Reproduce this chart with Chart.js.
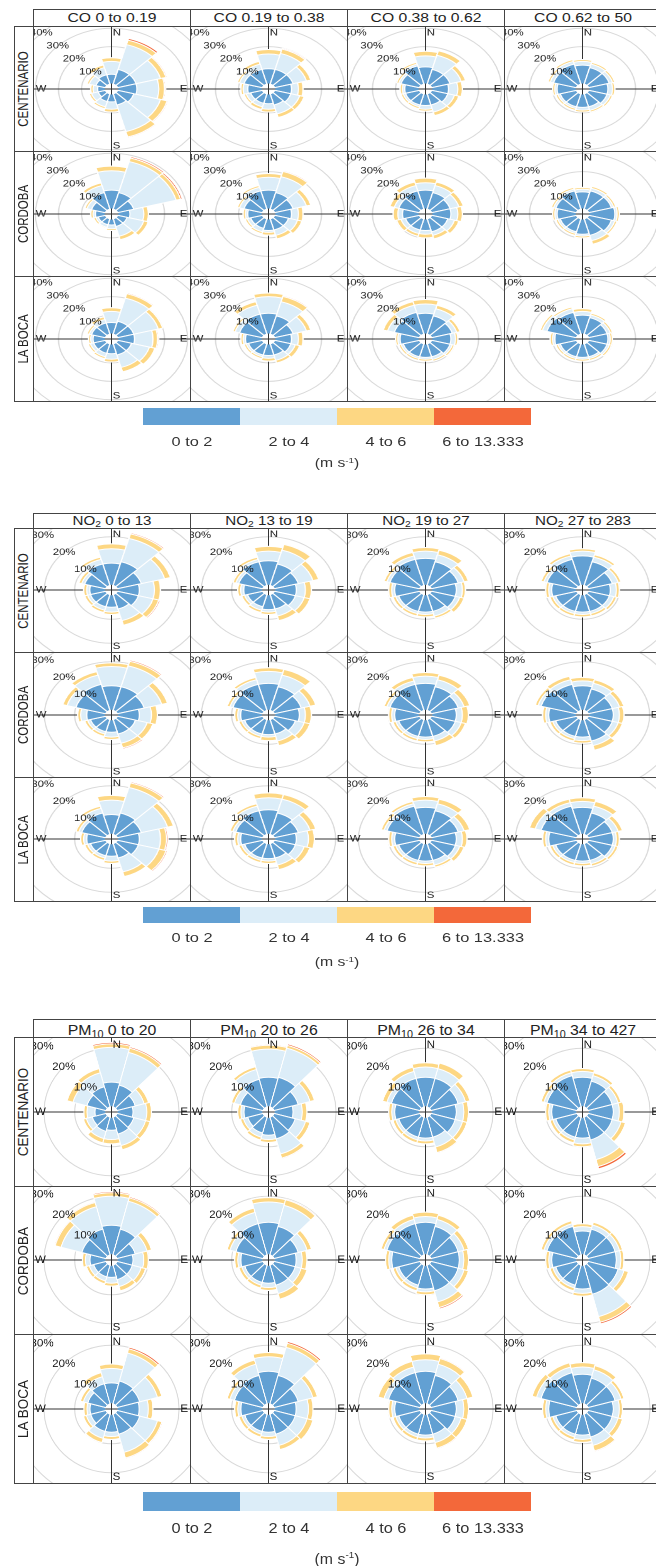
<!DOCTYPE html>
<html>
<head>
<meta charset="utf-8">
<script src="https://cdn.jsdelivr.net/npm/chart.js@4.4.1/dist/chart.umd.min.js"></script>
<style>
  html, body { margin: 0; padding: 0; background: #fff; }
  body { width: 656px; height: 1566px; position: relative; overflow: hidden;
         font-family: "Liberation Sans", Arial, sans-serif; color: #222; }
  .abs { position: absolute; box-sizing: border-box; }
  .frame { border: 1px solid #444; }
  .clip { overflow: hidden; }
  .txt { position: absolute; left: 50%; top: 50%; white-space: nowrap; line-height: 1; }
  sub { font-size: 68%; vertical-align: -0.3em; line-height: 0; }
  sup { font-size: 62%; vertical-align: 0.55em; line-height: 0; }
</style>
</head>
<body>
<script>
// wind direction sectors (30 degrees each) and speed bins
const DIRECTIONS = ['N', '30', '60', 'E', '120', '150', 'S', '210', '240', 'W', '300', '330'];
const SPEED_BINS = ['0 to 2', '2 to 4', '4 to 6', '6 to 13.333'];
const SPEED_COLOURS = ['#62a0d3', '#dcedf8', '#fdd783', '#f3683a'];
const SITES = ['CENTENARIO', 'CORDOBA', 'LA BOCA'];

const CO_RANGES = ['0 to 0.19', '0.19 to 0.38', '0.38 to 0.62', '0.62 to 50'];
const NO2_RANGES = ['0 to 13', '13 to 19', '19 to 27', '27 to 283'];
const PM10_RANGES = ['0 to 20', '20 to 26', '26 to 34', '34 to 427'];

const CO_TICKS = [10, 20, 30, 40];
const NO2_TICKS = [10, 20, 30];
const PM10_TICKS = [10, 20, 30];

// each rose: frequency (%) per direction for [0-2, 2-4, 4-6, 6-13.333] m/s
const CO_CENTENARIO_1 = [
  [5, 8, 8, 8, 7, 6, 4, 4, 3, 3, 4, 5],
  [7, 14, 11, 9.5, 12, 15, 4, 3, 3, 2, 3, 4],
  [2, 2.5, 2.5, 2.5, 3, 3, 1.5, 1, 1, 1, 1, 1.5],
  [0, 1, 0.5, 0.5, 0.5, 0.5, 0, 0, 0, 0, 0, 0]];
const CO_CENTENARIO_2 = [
  [8, 8, 8, 7, 7, 6, 5, 5, 5, 6, 8, 8],
  [8, 9, 6, 3, 4, 5, 3, 2, 2, 2, 2, 3],
  [2.5, 2.5, 2, 2, 2, 2, 1.5, 1.5, 1, 1, 1, 1.5],
  [0, 0.5, 0, 0, 0, 0, 0, 0, 0, 0, 0, 0]];
const CO_CENTENARIO_3 = [
  [9, 8, 8, 7, 7, 6, 6, 6, 6, 6, 8, 10],
  [6, 8, 5, 4, 3, 4, 2, 1, 1, 1, 1, 1],
  [2.5, 2.5, 2, 2, 2, 2, 1, 1, 1, 1, 1, 1],
  [0, 0.3, 0, 0, 0, 0, 0, 0, 0, 0, 0, 0]];
const CO_CENTENARIO_4 = [
  [10, 9, 9, 8, 8, 7, 7, 7, 7, 8, 10, 11],
  [2, 2, 1.5, 2, 1.5, 2, 1.5, 1, 1, 1, 1.5, 1.5],
  [1, 1, 1, 1, 1, 1, 1, 1, 1, 1, 1, 1],
  [0, 0, 0, 0, 0, 0, 0, 0, 0, 0, 0, 0]];
const CO_CORDOBA_1 = [
  [10, 9, 7, 5, 4, 4, 3, 3, 3, 4, 6, 9],
  [10.5, 17.5, 19, 6, 7.5, 5.5, 2, 1.5, 1, 1, 2, 4],
  [2.5, 2, 2, 2, 2, 2, 1, 0.5, 1, 1, 1, 1.5],
  [0, 0.8, 0.8, 0, 0, 0, 0, 0, 0, 0, 0, 0]];
const CO_CORDOBA_2 = [
  [10, 9, 8, 7, 6, 6, 6, 5, 5, 6, 8, 10],
  [7, 9, 6, 3, 4, 3, 1, 2, 1.5, 1, 2, 2],
  [2, 3, 2, 2, 2, 2, 1.5, 1, 1, 1, 1, 1],
  [0, 0.5, 0, 0, 0, 0, 0, 0, 0, 0, 0, 0]];
const CO_CORDOBA_3 = [
  [10, 9, 8, 8, 7, 7, 6, 6, 6, 7, 9, 10],
  [4, 4, 4, 3, 3, 2, 2, 2, 2, 2, 2, 3],
  [2.5, 2, 2, 2, 2, 2, 2, 1.5, 2, 2, 2, 2],
  [0, 0, 0, 0, 0, 0, 0, 0, 0, 0, 0, 0]];
const CO_CORDOBA_4 = [
  [9, 10, 10, 11, 10, 9, 8, 7, 7, 8, 9, 10],
  [1.5, 1.5, 1, 1, 1.5, 3, 1, 1, 1, 1, 1, 1],
  [1, 1, 1, 1, 1, 2, 1, 1, 1, 1, 1, 1],
  [0, 0, 0, 0, 0, 0, 0, 0, 0, 0, 0, 0]];
const CO_LABOCA_1 = [
  [6, 7, 7, 7, 6, 6, 5, 5, 5, 5, 6, 6],
  [6, 13, 11, 8, 8, 7, 3, 2, 1.5, 1, 1, 2],
  [2, 2.5, 2, 2, 2.5, 2.5, 1.5, 1, 1, 1, 1, 1.5],
  [0, 0.5, 0, 0.5, 0, 0, 0, 0, 0, 0, 0, 0]];
const CO_LABOCA_2 = [
  [11, 10, 8, 7, 7, 6, 6, 6, 6, 7, 10, 11],
  [9, 8, 6, 3, 2, 3, 1.5, 1, 1, 1, 2, 5],
  [2, 3, 2, 2, 2, 1.5, 1.5, 1, 1, 1, 1, 2],
  [0, 0.5, 0, 0, 0, 0, 0, 0, 0, 0, 0, 0]];
const CO_LABOCA_3 = [
  [11, 10, 9, 8, 8, 7, 7, 7, 7, 8, 11, 12],
  [5, 4, 2, 2, 1, 1.5, 1, 1, 1, 1, 3, 4],
  [2.5, 2, 1.5, 1, 1, 1, 1, 1, 1, 1, 2, 2],
  [0, 0, 0, 0, 0, 0, 0, 0, 0, 0, 0, 0]];
const CO_LABOCA_4 = [
  [10, 9, 8, 8, 8, 7, 7, 7, 7, 9, 13, 12],
  [2, 1.5, 1.5, 1, 1, 1, 1, 1, 1, 1, 2, 2],
  [1.5, 1, 1, 1, 1, 1, 1, 1, 1, 1, 1, 1],
  [0, 0, 0, 0, 0, 0, 0, 0, 0, 0, 0, 0]];

const NO2_CENTENARIO_1 = [
  [9, 10, 8, 7, 7, 6, 5, 5, 5, 5, 7, 9],
  [6, 10, 8, 5, 5, 5, 2, 1.5, 1, 1, 1, 2],
  [2, 2, 2, 2, 2, 2, 1, 1, 1, 1, 1, 1],
  [0, 0.5, 0, 0, 0.5, 0, 0, 0, 0, 0, 0, 0]];
const NO2_CENTENARIO_2 = [
  [10, 9, 8, 7, 7, 6, 6, 5, 5, 6, 8, 10],
  [4, 6, 5, 3, 3, 3, 1, 1.5, 1, 1, 1, 1],
  [2, 2.5, 2, 2, 2, 2, 1, 1, 1, 1, 1, 1],
  [0, 0.3, 0, 0, 0, 0, 0, 0, 0, 0, 0, 0]];
const NO2_CENTENARIO_3 = [
  [11, 10, 9, 8, 8, 7, 7, 7, 7, 8, 10, 11],
  [3, 3, 2, 2, 1.5, 2, 1, 1, 1, 1, 1, 1.5],
  [1.5, 2, 1.5, 1, 1.5, 1, 1, 1, 1, 1, 1, 1.5],
  [0, 0, 0, 0, 0, 0, 0, 0, 0, 0, 0, 0]];
const NO2_CENTENARIO_4 = [
  [12, 10, 8, 7, 7, 7, 7, 7, 7, 8, 10, 11],
  [2, 2, 2, 2, 1.5, 1, 1, 1, 1, 1, 1, 1.5],
  [1, 1, 1, 1, 1, 1, 1, 1, 1, 1, 1, 1],
  [0, 0, 0, 0, 0, 0, 0, 0, 0, 0, 0, 0]];
const NO2_CORDOBA_1 = [
  [10, 10, 9, 7, 6, 6, 5, 5, 5, 6, 10, 11],
  [8, 9, 6, 4, 4, 4, 2, 1, 1, 2, 3, 4],
  [1.5, 2, 2, 2, 2, 2, 1, 1, 1, 1, 1.5, 1.5],
  [0, 0.5, 0, 0, 0, 0.5, 0, 0, 0, 0, 0, 0]];
const NO2_CORDOBA_2 = [
  [11, 10, 9, 8, 7, 6, 6, 6, 6, 7, 10, 11],
  [5, 5, 3, 2, 3, 3, 1, 1, 1, 1, 1, 2],
  [1.5, 2.5, 2, 2, 2, 2, 1.5, 1, 1, 1, 1, 1],
  [0, 0, 0, 0, 0, 0, 0, 0, 0, 0, 0, 0]];
const NO2_CORDOBA_3 = [
  [11, 10, 9, 8, 8, 7, 7, 7, 7, 8, 10, 11],
  [3, 3, 2, 2, 2, 2, 1, 1, 1, 1, 1, 1.5],
  [1.5, 2, 2, 2, 1.5, 2, 1, 1, 1, 1, 1, 1.5],
  [0, 0, 0, 0, 0, 0, 0, 0, 0, 0, 0, 0]];
const NO2_CORDOBA_4 = [
  [10, 9, 8, 8, 8, 9, 7, 7, 7, 9, 12, 11],
  [2, 2.5, 2.5, 2, 2, 2, 1.5, 1, 1, 1, 1, 2],
  [1.5, 1.5, 1.5, 1.5, 1.5, 2, 1, 1, 1, 1, 1, 1.5],
  [0, 0, 0, 0, 0, 0, 0, 0, 0, 0, 0, 0]];
const NO2_LABOCA_1 = [
  [8, 9, 8, 7, 7, 6, 5, 5, 5, 6, 8, 9],
  [6, 11, 9, 7, 7, 6, 2, 1, 1, 1, 1, 2],
  [2, 2, 2, 2, 2.5, 2, 1, 1, 1, 1, 1, 1],
  [0, 0.5, 0, 0.5, 0.5, 0, 0, 0, 0, 0, 0, 0]];
const NO2_LABOCA_2 = [
  [10, 9, 8, 7, 7, 6, 6, 6, 6, 7, 9, 10],
  [5, 6, 4, 4, 3, 3, 1, 1, 1, 1, 1, 2],
  [2, 2, 2, 2, 2, 2, 1, 1, 1, 1, 1, 1],
  [0, 0, 0, 0, 0, 0, 0, 0, 0, 0, 0, 0]];
const NO2_LABOCA_3 = [
  [11, 10, 9, 8, 8, 7, 7, 7, 7, 8, 11, 12],
  [3, 3, 2, 2, 1.5, 2, 1, 1, 1, 1, 1, 1],
  [1.5, 2, 2, 1.5, 1.5, 1, 1, 1, 1, 1, 1, 1],
  [0, 0, 0, 0, 0, 0, 0, 0, 0, 0, 0, 0]];
const NO2_LABOCA_4 = [
  [11, 9, 8, 8, 8, 7, 7, 7, 7, 9, 12, 12],
  [2.5, 3, 2, 1, 1, 1.5, 1, 1, 1, 1, 2, 1.5],
  [1.5, 2, 1.5, 1, 1, 1, 1, 1, 1, 1, 2, 1.5],
  [0, 0, 0, 0, 0, 0, 0, 0, 0, 0, 0, 0]];

const PM10_CENTENARIO_1 = [
  [8.3, 7.6, 6, 5, 5.5, 5.9, 4.3, 4.9, 4.5, 3.4, 6.3, 7],
  [12, 11.7, 3, 4.5, 4, 4.1, 3.2, 2.6, 2, 2.6, 4.7, 5],
  [1.2, 1.5, 1.5, 1.5, 1.5, 1.5, 1.5, 1.5, 1, 1, 2, 1.5],
  [0.5, 0.5, 0, 0, 0, 0, 0, 0, 0, 0, 0, 0]];
const PM10_CENTENARIO_2 = [
  [10, 10.4, 8, 6, 7, 7.6, 6, 5.5, 5, 6, 7.5, 9.7],
  [9.7, 10.4, 4, 3, 3.5, 5.4, 1.5, 1.5, 1.5, 1, 2, 3.5],
  [1.3, 1, 1.5, 1.5, 1.5, 1.5, 1, 1, 1, 1, 1, 1],
  [0.3, 0.5, 0, 0, 0, 0.3, 0, 0, 0, 0, 0, 0]];
const PM10_CENTENARIO_3 = [
  [10, 10, 9, 8, 8, 7, 7, 7, 7, 8, 9.5, 10],
  [3.5, 3.5, 2.5, 2.5, 2.5, 3.5, 1, 1, 1, 1, 1.5, 2.5],
  [1.5, 2, 1.5, 1.5, 1.5, 2, 1, 1, 1, 1, 1.5, 1.5],
  [0, 0.2, 0, 0, 0, 0.3, 0, 0, 0, 0, 0, 0]];
const PM10_CENTENARIO_4 = [
  [10, 9, 8, 8, 8, 8, 7, 7, 7, 8, 10, 11],
  [2, 2, 2, 2, 3, 7, 2, 1, 1, 1, 1, 1],
  [1, 1, 1, 1.5, 1.5, 2.5, 1, 1, 1, 1, 1, 1],
  [0, 0, 0, 0, 0, 0.8, 0, 0, 0, 0, 0, 0]];
const PM10_CORDOBA_1 = [
  [10, 9, 6, 5, 5, 5, 4, 4, 4, 5, 8, 9],
  [10, 10, 4, 3.5, 3, 2.5, 2, 1.5, 1.5, 1.5, 7, 8],
  [1.2, 1.2, 1.5, 1.5, 1.5, 1.5, 1, 1, 1, 1, 2, 1.5],
  [0.4, 0.4, 0, 0, 0, 0, 0, 0, 0, 0, 0.3, 0.3]];
const PM10_CORDOBA_2 = [
  [11, 10, 8, 7, 7, 7, 6, 6, 6, 7, 9, 11],
  [7, 7.5, 3, 2, 2, 3, 1.5, 1, 1, 1, 2, 4],
  [1.5, 2, 1.5, 1.5, 2, 2, 1, 1, 1, 1, 1, 1.5],
  [0.2, 0.3, 0, 0, 0, 0, 0, 0, 0, 0, 0, 0]];
const PM10_CORDOBA_3 = [
  [11, 10, 9, 9, 9, 9, 8, 7, 7, 9, 11, 11],
  [2, 2.5, 2, 1.5, 2, 4, 1, 1, 1, 1, 1, 1.5],
  [1.5, 1.5, 1.5, 1.5, 1.5, 2, 1, 1, 1, 1, 1, 1.5],
  [0, 0, 0, 0, 0, 0.5, 0, 0, 0, 0, 0, 0]];
const PM10_CORDOBA_4 = [
  [8, 9, 9, 9, 10, 10.2, 8, 7, 7, 8, 10, 10],
  [1.5, 1.5, 1.5, 1.5, 2, 8, 1.5, 1, 1, 1, 1, 1],
  [1, 1, 1, 1, 1.5, 2, 1, 1, 1, 1, 1, 1],
  [0, 0, 0, 0, 0, 0.6, 0, 0, 0, 0, 0, 0]];
const PM10_LABOCA_1 = [
  [7, 8, 7.5, 7, 7.5, 7, 6, 6, 5, 5, 6, 7],
  [5, 10, 6, 3, 6, 6.5, 1.5, 2.5, 1.5, 1, 1.5, 2.5],
  [1.5, 1.5, 1.5, 1.5, 1.5, 2, 1, 1.5, 1, 1, 1, 1.5],
  [0, 0.6, 0, 0, 0.3, 0.3, 0, 0, 0, 0, 0, 0]];
const PM10_LABOCA_2 = [
  [11, 10, 8, 7, 7, 7, 6, 6, 6, 7, 9.5, 10],
  [5, 10, 5, 4, 4, 4, 1.5, 1, 1, 1, 1.5, 4],
  [1.5, 1.5, 1.5, 1.5, 2, 1.5, 1, 1, 1, 1, 1, 1.5],
  [0, 0.6, 0, 0, 0, 0, 0, 0, 0, 0, 0, 0]];
const PM10_LABOCA_3 = [
  [11, 10, 9, 8, 8, 7, 7, 7, 7, 8, 10.5, 11],
  [4, 4, 3, 2.5, 2, 3, 1, 1, 1, 1, 1.5, 2],
  [2, 2, 2, 1.5, 2, 2, 1, 1, 1, 1, 2, 2],
  [0, 0.3, 0, 0, 0, 0.3, 0, 0, 0, 0, 0, 0]];
const PM10_LABOCA_4 = [
  [10, 9, 9, 8, 8, 8, 7, 7, 7, 9, 12, 11],
  [2.5, 3, 2, 2, 2, 3, 1.5, 1, 1, 1, 1.5, 2],
  [1.5, 1.5, 1, 1, 1.5, 2, 1, 1, 1, 1, 1.5, 1.5],
  [0, 0, 0, 0, 0, 0.3, 0, 0, 0, 0, 0, 0]];

// page layout
const STRIP_X = 14;
const GRID_X = 33;
const COL_W = 157;
const LEGEND_X = 143;
const LEGEND_SEG = 97;

const PANELS = [
  { name: 'CO', ranges: CO_RANGES, ticks: CO_TICKS,
    roses: [[CO_CENTENARIO_1, CO_CENTENARIO_2, CO_CENTENARIO_3, CO_CENTENARIO_4],
            [CO_CORDOBA_1, CO_CORDOBA_2, CO_CORDOBA_3, CO_CORDOBA_4],
            [CO_LABOCA_1, CO_LABOCA_2, CO_LABOCA_3, CO_LABOCA_4]],
    top: 9, rows: [26, 151, 276, 401], k: 1.84, off: 3,
    font: { title: 12.5, strip: 11.5, cell: 9, legend: 13, unit: 12.5 },
    legend: { top: 408, h: 17, labelY: 441, unitY: 463 } },
  { name: 'NO<sub>2</sub>', ranges: NO2_RANGES, ticks: NO2_TICKS,
    roses: [[NO2_CENTENARIO_1, NO2_CENTENARIO_2, NO2_CENTENARIO_3, NO2_CENTENARIO_4],
            [NO2_CORDOBA_1, NO2_CORDOBA_2, NO2_CORDOBA_3, NO2_CORDOBA_4],
            [NO2_LABOCA_1, NO2_LABOCA_2, NO2_LABOCA_3, NO2_LABOCA_4]],
    top: 513, rows: [528, 652, 777, 901], k: 2.4, off: 2.2,
    font: { title: 12, strip: 11.5, cell: 9, legend: 13, unit: 12.5 },
    legend: { top: 907, h: 16, labelY: 937, unitY: 962 } },
  { name: 'PM<sub>10</sub>', ranges: PM10_RANGES, ticks: PM10_TICKS,
    roses: [[PM10_CENTENARIO_1, PM10_CENTENARIO_2, PM10_CENTENARIO_3, PM10_CENTENARIO_4],
            [PM10_CORDOBA_1, PM10_CORDOBA_2, PM10_CORDOBA_3, PM10_CORDOBA_4],
            [PM10_LABOCA_1, PM10_LABOCA_2, PM10_LABOCA_3, PM10_LABOCA_4]],
    top: 1019, rows: [1037, 1186, 1334, 1483], k: 2.9, off: 2,
    font: { title: 15, strip: 13.5, cell: 11, legend: 15.5, unit: 15 },
    legend: { top: 1492, h: 19, labelY: 1528, unitY: 1558 } }
];

function addBox(x, y, w, h, cls) {
  const d = document.createElement('div');
  d.className = 'abs ' + (cls || '');
  Object.assign(d.style, { left: x + 'px', top: y + 'px', width: w + 'px', height: h + 'px' });
  document.body.appendChild(d);
  return d;
}

function addText(parent, html, size, sx, rotate, colour) {
  const s = document.createElement('span');
  s.className = 'txt';
  s.innerHTML = html;
  s.style.fontSize = size + 'px';
  if (colour) s.style.color = colour;
  s.style.transform = `translate(-50%, -50%) scaleX(${sx})` + (rotate ? ' rotate(-90deg)' : '');
  parent.appendChild(s);
}

// axes, hole, % labels and compass letters around each rose
const rosePlugin = {
  id: 'rose',
  beforeDatasetsDraw(chart) {
    const { ctx } = chart;
    const r = chart.scales.r;
    ctx.save();
    ctx.strokeStyle = '#333';
    ctx.lineWidth = 1;
    ctx.beginPath();
    ctx.moveTo(0, r.yCenter); ctx.lineTo(chart.width, r.yCenter);
    ctx.moveTo(r.xCenter, 0); ctx.lineTo(r.xCenter, chart.height);
    ctx.stroke();
    ctx.restore();
  },
  afterDatasetsDraw(chart, args, opts) {
    const { ctx } = chart;
    const r = chart.scales.r;
    const cx = r.xCenter, cy = r.yCenter;
    const hole = r.getDistanceFromCenterForValue(0);
    ctx.save();
    ctx.fillStyle = '#fff';
    ctx.beginPath(); ctx.arc(cx, cy, hole, 0, Math.PI * 2); ctx.fill();
    ctx.strokeStyle = '#333'; ctx.lineWidth = 1;
    ctx.beginPath();
    ctx.moveTo(cx - hole, cy); ctx.lineTo(cx + hole, cy);
    ctx.moveTo(cx, cy - hole); ctx.lineTo(cx, cy + hole);
    ctx.stroke();

    ctx.fillStyle = '#1e1e1e';
    ctx.font = `${opts.fontSize}px "Liberation Sans", Arial, sans-serif`;
    ctx.textAlign = 'center';
    ctx.textBaseline = 'middle';
    opts.ticks.forEach(t => {
      const d = r.getDistanceFromCenterForValue(t) * Math.SQRT1_2;
      ctx.fillText(t + '%', cx - d, cy - d);
    });
    ctx.textAlign = 'left';
    ctx.textBaseline = 'top';
    ctx.fillText('N', cx + 1, cy - opts.halfH + 2);
    ctx.textBaseline = 'bottom';
    ctx.fillText('S', cx + 1, cy + opts.halfH - 1);
    ctx.textBaseline = 'middle';
    ctx.fillText('W', cx - opts.halfW + 2, cy);
    ctx.textAlign = 'right';
    ctx.fillText('E', cx + opts.halfW - 2, cy);
    ctx.restore();
  }
};

function drawRose(cell, rose, panel, sx, cellH) {
  const gridMax = panel.ticks[panel.ticks.length - 1];
  const R = Math.ceil(panel.k * (gridMax + panel.off)) + 1;
  const S = 2 * R;
  const canvas = document.createElement('canvas');
  canvas.width = S;
  canvas.height = S;
  canvas.style.position = 'absolute';
  canvas.style.width = (S * sx) + 'px';
  canvas.style.height = S + 'px';
  canvas.style.left = ((COL_W - S * sx) / 2) + 'px';
  canvas.style.top = ((cellH - S) / 2) + 'px';
  cell.appendChild(canvas);

  // stacked bins: cumulative totals, outermost drawn first
  let run = DIRECTIONS.map(() => 0);
  const datasets = rose.map((bin, b) => {
    run = run.map((v, i) => v + bin[i]);
    return {
      label: SPEED_BINS[b],
      data: run.slice(),
      backgroundColor: SPEED_COLOURS[b],
      borderColor: '#ffffff',
      borderWidth: 1
    };
  });

  new Chart(canvas, {
    type: 'polarArea',
    data: { labels: DIRECTIONS, datasets },
    options: {
      responsive: false,
      animation: false,
      devicePixelRatio: 2,
      layout: { padding: 0 },
      scales: {
        r: {
          min: -panel.off,
          max: R / panel.k - panel.off,
          startAngle: -15,
          afterBuildTicks: s => { s.ticks = panel.ticks.map(v => ({ value: v })); },
          ticks: { display: false },
          grid: { color: '#d9d9d9', lineWidth: 1 },
          pointLabels: { display: false },
          angleLines: { display: false }
        }
      },
      plugins: {
        legend: { display: false },
        tooltip: { enabled: false },
        rose: { ticks: panel.ticks, fontSize: panel.font.cell, halfH: cellH / 2, halfW: COL_W / 2 / sx }
      }
    },
    plugins: [rosePlugin]
  });
}

PANELS.forEach(panel => {
  const rows = panel.rows;
  const sx = COL_W / ((rows[3] - rows[0]) / 3);

  // column titles
  panel.ranges.forEach((range, c) => {
    const box = addBox(GRID_X + c * COL_W, panel.top, COL_W + 1, rows[0] - panel.top + 1, 'frame');
    addText(box, `${panel.name} ${range}`, panel.font.title, sx);
  });

  SITES.forEach((site, r) => {
    const y = rows[r];
    const h = rows[r + 1] - rows[r];
    const strip = addBox(STRIP_X, y, GRID_X - STRIP_X + 1, h + 1, 'frame');
    addText(strip, site, panel.font.strip, sx, true);

    panel.ranges.forEach((range, c) => {
      const cell = addBox(GRID_X + c * COL_W, y, COL_W, h, 'clip');
      drawRose(cell, panel.roses[r][c], panel, sx, h);
      addBox(GRID_X + c * COL_W, y, COL_W + 1, h + 1, 'frame');
    });
  });

  // speed key
  const lg = panel.legend;
  SPEED_BINS.forEach((bin, b) => {
    const bar = addBox(LEGEND_X + b * LEGEND_SEG, lg.top, LEGEND_SEG, lg.h);
    bar.style.background = SPEED_COLOURS[b];
    const lab = addBox(LEGEND_X + b * LEGEND_SEG + LEGEND_SEG / 2, lg.labelY, 0, 0);
    addText(lab, bin, panel.font.legend, sx, false, '#333');
  });
  const unit = addBox(LEGEND_X + 2 * LEGEND_SEG, lg.unitY, 0, 0);
  addText(unit, '(m s<sup>-1</sup>)', panel.font.unit, sx, false, '#333');
});
</script>
</body>
</html>
